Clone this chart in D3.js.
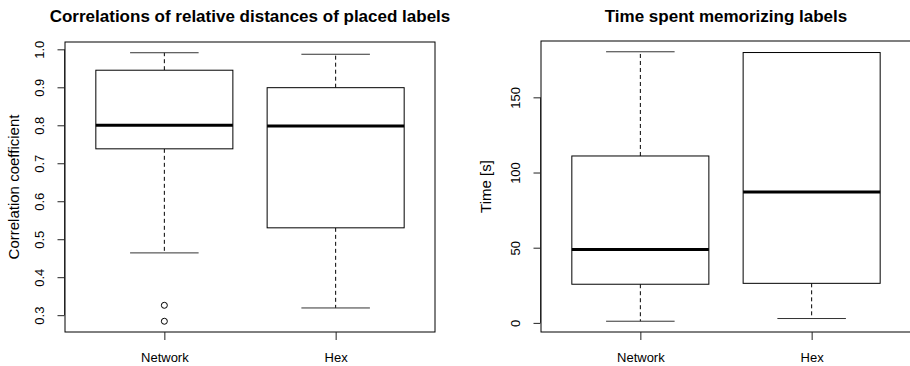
<!DOCTYPE html>
<html>
<head>
<meta charset="utf-8">
<script src="https://cdn.jsdelivr.net/npm/d3@7"></script>
<style>
  body { margin: 0; background: white; }
  svg text { font-family: "Liberation Sans", Arial, sans-serif; fill: black; }
</style>
</head>
<body>
<div id="canvas"></div>
<script>
// Data
const groups = ["Network", "Hex"];

// correlation panel: [lowWhisker, q1, median, q3, highWhisker]
const corrStats = [
  [0.464, 0.738, 0.800, 0.945, 0.991],
  [0.319, 0.530, 0.798, 0.899, 0.987]
];
const corrOutliers = [[0.326, 0.284], []];
const corrTicks = [0.3, 0.4, 0.5, 0.6, 0.7, 0.8, 0.9, 1.0];

// time panel
const timeStats = [
  [1.1, 25.7, 48.8, 111, 180.3],
  [2.9, 26.3, 87, 179.8, 179.8]
];
const timeOutliers = [[], []];
const timeTicks = [0, 50, 100, 150];

// Constants
const w = 910;
const h = 366;

const svg = d3.select("#canvas").append("svg")
  .attr("width", w)
  .attr("height", h)
  .style("background-color", "white");

function drawPanel(opts) {
  const { left, top, width, height, stats, outliers, ticks, tickFmt, title, ylab, ylabOff } = opts;

  // R style: extend data range by 4%
  const all = stats.flat().concat(outliers.flat());
  const lo = d3.min(all), hi = d3.max(all);
  const pad = (hi - lo) * 0.04;
  const y = d3.scaleLinear().domain([lo - pad, hi + pad]).range([top + height, top]);
  const x = d3.scaleLinear().domain([0.42, 2.58]).range([left, left + width]);

  const g = svg.append("g");

  stats.forEach((s, i) => {
    const cx = x(i + 1);
    const bw = x(1.4) - x(1);
    const cw = x(1.2) - x(1);
    const [wl, q1, med, q3, wh] = s;

    // whiskers (dashed)
    g.append("line")
      .attr("x1", cx).attr("x2", cx)
      .attr("y1", y(q3)).attr("y2", y(wh))
      .attr("stroke", "black").attr("stroke-dasharray", "4,3");
    g.append("line")
      .attr("x1", cx).attr("x2", cx)
      .attr("y1", y(q1)).attr("y2", y(wl))
      .attr("stroke", "black").attr("stroke-dasharray", "4,3");

    // caps
    [wl, wh].forEach(v => {
      g.append("line")
        .attr("x1", cx - cw).attr("x2", cx + cw)
        .attr("y1", y(v)).attr("y2", y(v))
        .attr("stroke", "#333");
    });

    // box
    g.append("rect")
      .attr("x", cx - bw).attr("width", 2 * bw)
      .attr("y", y(q3)).attr("height", y(q1) - y(q3))
      .attr("fill", "white").attr("stroke", "black");

    // median
    g.append("line")
      .attr("x1", cx - bw).attr("x2", cx + bw)
      .attr("y1", y(med)).attr("y2", y(med))
      .attr("stroke", "black").attr("stroke-width", 3);

    outliers[i].forEach(v => {
      g.append("circle")
        .attr("cx", cx).attr("cy", y(v)).attr("r", 3)
        .attr("fill", "none").attr("stroke", "black");
    });
  });

  // frame
  g.append("rect")
    .attr("x", left).attr("y", top)
    .attr("width", width).attr("height", height)
    .attr("fill", "none").attr("stroke", "black");

  // y axis
  const yAxis = d3.axisLeft(y).tickValues(ticks).tickFormat(tickFmt).tickSize(7);
  const ya = g.append("g").attr("transform", `translate(${left - 0.5},0)`).call(yAxis);
  ya.select(".domain").attr("d", `M0,${y(ticks[0])}V${y(ticks[ticks.length - 1])}`)
    .attr("stroke", "#222");
  ya.selectAll(".tick line").attr("stroke", "#222");
  ya.selectAll(".tick text")
    .attr("transform", "rotate(-90)")
    .attr("x", 0).attr("y", -21).attr("dy", 0)
    .style("text-anchor", "middle")
    .style("font-size", "13px")
    .style("font-family", "Liberation Sans, Arial, sans-serif")
    .attr("fill", "black");

  // x axis
  const xAxis = d3.axisBottom(x).tickValues([1, 2]).tickFormat((d) => groups[d - 1]).tickSize(8);
  const xa = g.append("g").attr("transform", `translate(0,${top + height})`).call(xAxis);
  xa.select(".domain").remove();
  xa.selectAll(".tick line").attr("stroke", "#222");
  xa.selectAll(".tick text")
    .attr("y", 30).attr("dy", 0)
    .style("font-size", "13px")
    .style("font-family", "Liberation Sans, Arial, sans-serif")
    .attr("fill", "black");

  // title
  g.append("text")
    .attr("x", left + width / 2).attr("y", 22)
    .style("text-anchor", "middle")
    .style("font-size", "17px")
    .style("font-weight", "bold")
    .text(title);

  // y label
  g.append("text")
    .attr("transform", `translate(${left - ylabOff},${top + height / 2}) rotate(-90)`)
    .style("text-anchor", "middle")
    .style("font-size", "15px")
    .text(ylab);
}

drawPanel({
  left: 65, top: 42, width: 370, height: 290,
  stats: corrStats, outliers: corrOutliers, ticks: corrTicks,
  tickFmt: d3.format(".1f"),
  title: "Correlations of relative distances of placed labels",
  ylab: "Correlation coefficient", ylabOff: 46
});

drawPanel({
  left: 541, top: 41, width: 370, height: 291,
  stats: timeStats, outliers: timeOutliers, ticks: timeTicks,
  tickFmt: d3.format("d"),
  title: "Time spent memorizing labels",
  ylab: "Time [s]", ylabOff: 50
});
</script>
</body>
</html>
